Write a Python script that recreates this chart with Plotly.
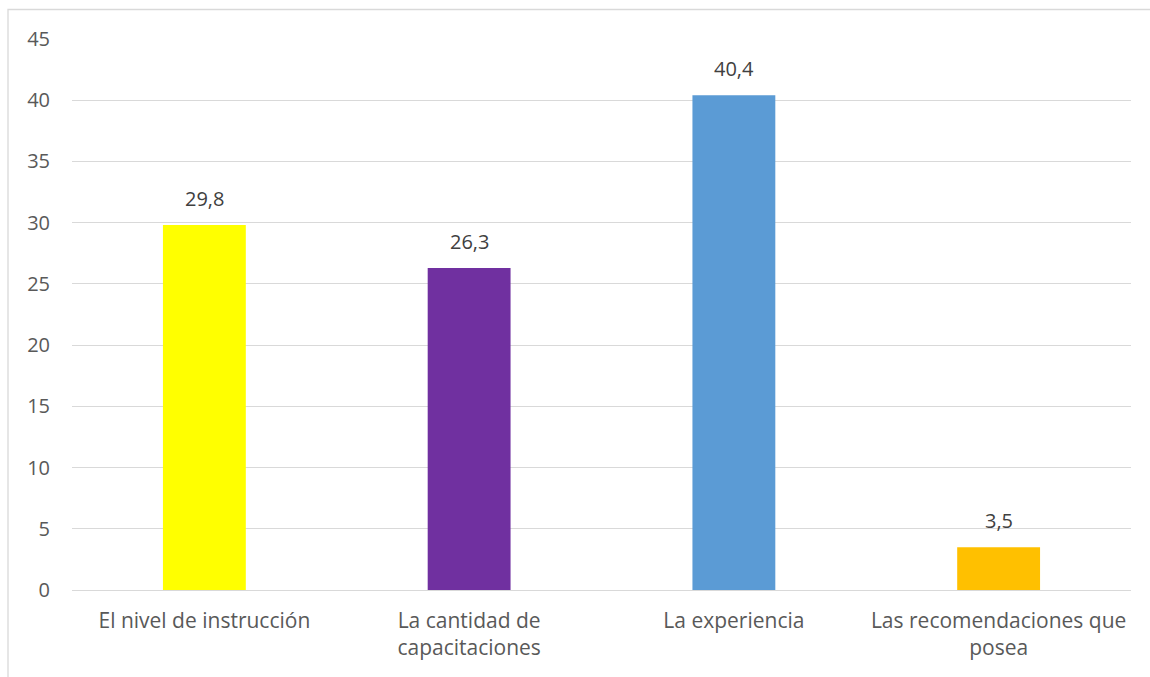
import plotly.graph_objects as go

categories = ["El nivel de instrucción", "La cantidad de<br>capacitaciones",
              "La experiencia", "Las recomendaciones que<br>posea"]
values = [29.8, 26.3, 40.4, 3.5]
colors = ["#FFFF00", "#7030A0", "#5B9BD5", "#FFC000"]
y_ticks = [0, 5, 10, 15, 20, 25, 30, 35, 40, 45]

W, H = 1150, 677
L, R, T, B = 72, 19, 39, 87
pw, ph = W - L - R, H - T - B
FS = 21

fig = go.Figure(go.Bar(
    x=categories, y=values, marker_color=colors, marker_line_width=0,
))

annotations = [dict(x=c, y=v, xref="x", yref="y", text=f"{v:.1f}".replace(".", ","),
                    showarrow=False, yanchor="bottom", yshift=11,
                    font=dict(family="Open Sans", size=20, color="#404040"))
               for c, v in zip(categories, values)]

fig.update_layout(
    width=W, height=H, margin=dict(l=L, r=R, t=T, b=B),
    paper_bgcolor="white", plot_bgcolor="white",
    bargap=0.687, showlegend=False,
    font=dict(family="Open Sans", size=FS, color="#595959"),
    annotations=annotations,
    xaxis=dict(showgrid=False, showline=False, ticks="", ticklabelstandoff=16,
               tickfont=dict(size=FS, color="#595959")),
    yaxis=dict(range=[0, 45], tickvals=y_ticks, showgrid=True, gridcolor="#D9D9D9",
               gridwidth=1.3, zeroline=True, zerolinecolor="#D9D9D9", zerolinewidth=1.3,
               showline=False, ticks="", ticklabelstandoff=21,
               tickfont=dict(size=20, color="#595959")),
    shapes=[dict(type="rect", xref="paper", yref="paper",
                 x0=(8 - L) / pw, x1=1.2, y0=(H - B - 9.5) / ph, y1=-0.5,
                 line=dict(color="#D9D9D9", width=1.3), fillcolor="rgba(0,0,0,0)",
                 layer="below")],
)

fig.write_html("out.html")
